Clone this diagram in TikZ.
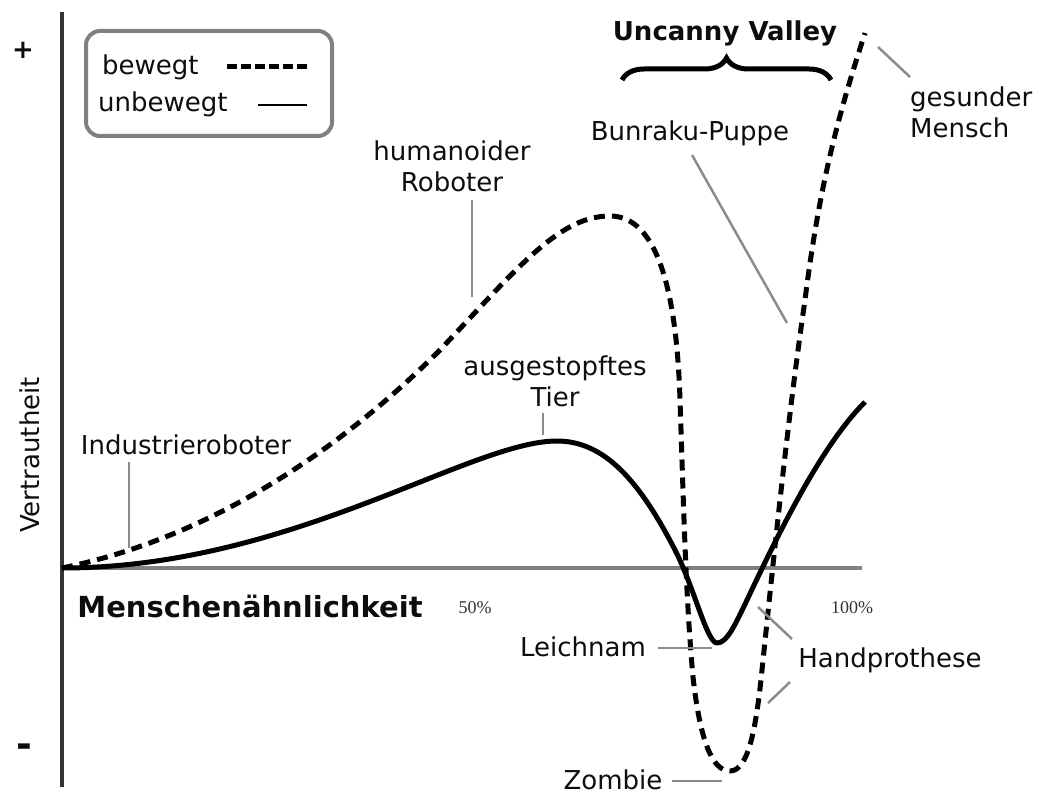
\documentclass[tikz,border=0pt]{standalone}
\usepackage{fontspec}
\setmainfont{DejaVu Sans}
\newfontfamily\pctfont{Liberation Serif}
\usetikzlibrary{positioning,decorations.pathreplacing}
\tikzset{font=\fontsize{26}{31}\selectfont}
\tikzset{every node/.append style={inner sep=0pt,text=black!95}}
\tikzset{leader/.style={draw=black!45,line width=2.5pt}}
\tikzset{moved/.style={line width=5pt,line join=round,dash pattern=on 11pt off 7pt}}
\tikzset{still/.style={line width=5pt,line join=round}}
\tikzset{pct/.style={font=\pctfont\fontsize{18}{20}\selectfont,text=black!80}}
\tikzset{lbl/.style={align=center}}

\begin{document}
\begin{tikzpicture}[x=1pt,y=-1pt]
  \useasboundingbox (0,0) rectangle (1051,799);
  \draw[line width=4pt,black!80] (62,12)--(62,787);
  \draw[line width=4pt,black!50] (62,568)--(862,568);
  \node (plus) at (23,50) {\bfseries +};
  \node (minus) at (24,751) {\fontsize{38}{40}\selectfont\bfseries -};
  \node[rotate=90] (vertr) at (30,455) {Vertrautheit};
  \node (menschen) at (250,606) {\fontsize{29}{31}\selectfont\bfseries Menschenähnlichkeit};
  \node[pct] (half) at (475,608) {50\%};
  \node[pct] (full) at (852,608) {100\%};
  % legend
  \draw[black!50,line width=4pt,rounded corners=14pt] (86,31) rectangle (332,136);
  \node[right] (bewegt) at (102,67) {bewegt};
  \node[right] (unbewegt) at (98,104) {unbewegt};
  \draw[line width=5pt,dash pattern=on 10pt off 4pt] (227,67)--(307,67);
  \draw[line width=2pt] (258,105)--(307,105);
  % uncanny valley
  \node (uv) at (725,33) {\bfseries Uncanny Valley};
  \draw[decorate,decoration={brace,amplitude=22pt},line width=5pt] (622,80)--(831,80);
  % curves
  \draw[moved] (62,568) .. controls (200,540) and (330,460) .. (440,350)
    .. controls (520,265) and (560,216) .. (610,216)
    .. controls (650,216) and (676,270) .. (680,400)
    .. controls (684,520) and (686,600) .. (693,677)
    .. controls (700,740) and (712,771) .. (730,771)
    .. controls (748,771) and (756,730) .. (762,670)
    .. controls (776,535) and (789,410) .. (805,300)
    .. controls (820,180) and (840,110) .. (865,33);
  \draw[still] (62,568) .. controls (290,568) and (470,441) .. (557,441)
    .. controls (605,441) and (640,482) .. (675,550)
    .. controls (694,587) and (707,643) .. (717,643)
    .. controls (727,643) and (735,625) .. (747,600)
    .. controls (780,530) and (822,445) .. (865,402);
  % labels
  \node (ind) at (186,445) {Industrieroboter};
  \node[lbl] (hum) at (452,166) {humanoider\\Roboter};
  \node[lbl] (tier) at (555,381) {ausgestopftes\\Tier};
  \node (bun) at (690,133) {Bunraku-Puppe};
  \node[lbl,align=left,anchor=west] (ges) at (910,112) {gesunder\\Mensch};
  \node (leich) at (583,647) {Leichnam};
  \node (zomb) at (613,780) {Zombie};
  \node (hand) at (890,660) {Handprothese};
  \coordinate (indA) at (129,462); \coordinate (indB) at (129,548);
  \coordinate (humA) at (472,200); \coordinate (humB) at (472,297);
  \coordinate (tierA) at (543,413); \coordinate (tierB) at (543,435);
  \coordinate (bunA) at (692,155); \coordinate (bunB) at (787,323);
  \coordinate (gesA) at (878,47); \coordinate (gesB) at (910,77);
  \coordinate (leichA) at (658,648); \coordinate (leichB) at (712,648);
  \coordinate (zombA) at (672,781); \coordinate (zombB) at (722,781);
  \coordinate (handA) at (792,639); \coordinate (handB) at (758,607);
  \coordinate (handC) at (790,682); \coordinate (handD) at (768,703);
  \draw[leader] (indA)--(indB);
  \draw[leader] (humA)--(humB);
  \draw[leader] (tierA)--(tierB);
  \draw[leader] (bunA)--(bunB);
  \draw[leader] (gesA)--(gesB);
  \draw[leader] (leichA)--(leichB);
  \draw[leader] (zombA)--(zombB);
  \draw[leader] (handA)--(handB);
  \draw[leader] (handC)--(handD);
\end{tikzpicture}
\end{document}
